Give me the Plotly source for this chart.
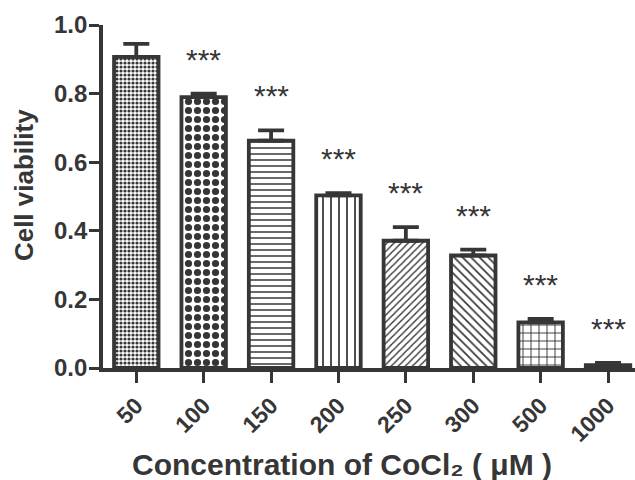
import plotly.graph_objects as go

categories = ["50", "100", "150", "200", "250", "300", "500", "1000"]
viability = [0.907, 0.790, 0.663, 0.503, 0.371, 0.328, 0.133, 0.008]
sem = [0.038, 0.010, 0.030, 0.007, 0.040, 0.017, 0.010, 0.007]
significance = ["", "***", "***", "***", "***", "***", "***", "***"]
y_ticks = [0.0, 0.2, 0.4, 0.6, 0.8, 1.0]

shapes = [".", ".", "-", "|", "/", "\\", "+", ""]
psizes = [4, 9, 6, 8, 5, 6, 8, 8]
psolid = [0.5, 0.5, 0.25, 0.22, 0.28, 0.28, 0.22, 0.2]

ink = "#363636"
font_family = "Liberation Sans, Arial, sans-serif"

fig = go.Figure()
fig.add_trace(go.Bar(
    x=list(range(len(categories))), y=viability, width=0.66,
    marker=dict(color="white",
                line=dict(color=ink, width=3.8),
                pattern=dict(shape=shapes, size=psizes, solidity=psolid,
                             fgcolor=ink, bgcolor="white", fillmode="replace")),
    error_y=dict(type="data", array=sem, arrayminus=[0] * len(sem), symmetric=False,
                 color=ink, thickness=3.8, width=13),
    showlegend=False, hoverinfo="skip",
))

for i, (v, e, s) in enumerate(zip(viability, sem, significance)):
    if s:
        fig.add_annotation(x=i, y=v + e, text=s, showarrow=False,
                           font=dict(size=30, color=ink, family=font_family),
                           yanchor="bottom", xanchor="center", yshift=16)

# axis titles
fig.add_annotation(xref="paper", yref="paper", x=0.4496, y=-0.281,
                   text="Concentration of CoCl₂ ( μM )", showarrow=False,
                   xanchor="center", yanchor="middle",
                   font=dict(size=30, family=font_family, color=ink, weight="bold"))
fig.add_annotation(xref="paper", yref="paper", x=-0.148, y=0.534,
                   text="Cell viability", showarrow=False, textangle=-90,
                   xanchor="center", yanchor="middle",
                   font=dict(size=26, family=font_family, color=ink, weight="bold"))

fig.update_layout(
    width=635, height=480,
    margin=dict(l=103, r=0, t=25, b=112),
    plot_bgcolor="white", paper_bgcolor="white",
    font=dict(family=font_family, color=ink),
    xaxis=dict(
        range=[-0.494, 7.40], showgrid=False, zeroline=False,
        tickmode="array", tickvals=list(range(len(categories))), ticktext=categories,
        showline=True, linecolor=ink, linewidth=3.8,
        ticks="outside", ticklen=11, tickwidth=3.2, tickcolor=ink,
        tickangle=-45,
        tickfont=dict(size=23, family=font_family, color=ink, weight="bold"),
    ),
    yaxis=dict(
        range=[0, 1.0], tickmode="array", tickvals=y_ticks,
        ticktext=[f"{t:.1f}" for t in y_ticks],
        showgrid=False, zeroline=False,
        showline=True, linecolor=ink, linewidth=3.8,
        ticks="outside", ticklen=10, tickwidth=3.2, tickcolor=ink,
        ticklabelstandoff=-3,
        tickfont=dict(size=24, family=font_family, color=ink, weight="bold"),
    ),
)

fig.write_html("out.html", config={"displayModeBar": False},
               post_script="document.body.style.margin='0px';document.body.style.overflow='hidden';")
